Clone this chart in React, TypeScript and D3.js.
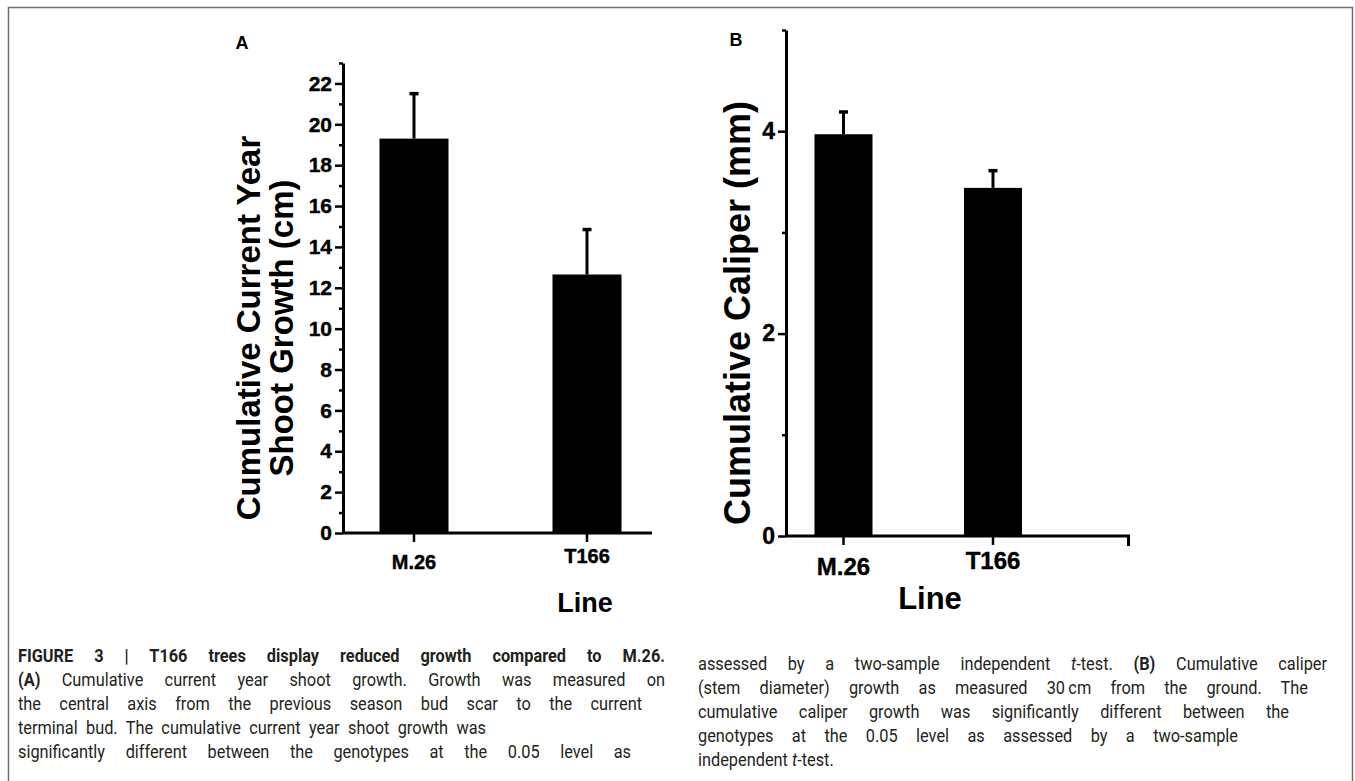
import * as d3 from "d3";
import React, { useEffect, useRef } from "react";

// Data
const categories = ["M.26", "T166"];

// Panel A: cumulative current year shoot growth (cm)
const shootGrowth = [19.3, 12.65];
const shootGrowthErr = [2.2, 2.2];
const shootTicks = [0, 2, 4, 6, 8, 10, 12, 14, 16, 18, 20, 22];
const shootMinorTicks = [1, 3, 5, 7, 9, 11, 13, 15, 17, 19, 21, 23];

// Panel B: cumulative caliper (mm)
const caliper = [3.97, 3.44];
const caliperErr = [0.22, 0.17];
const caliperTicks = [0, 2, 4];
const caliperMinorTicks = [1, 3, 5];

type Seg = { t: string; b?: boolean; i?: boolean };

const captionLeft: Seg[][] = [
  [{ t: "FIGURE 3 | T166 trees display reduced growth compared to M.26.", b: true }],
  [{ t: "(A)", b: true }, { t: " Cumulative current year shoot growth. Growth was measured on" }],
  [{ t: "the central axis from the previous season bud scar to the current" }],
  [{ t: "terminal bud. The cumulative current year shoot growth was" }],
  [{ t: "significantly different between the genotypes at the 0.05 level as" }],
];
const captionRight: Seg[][] = [
  [
    { t: "assessed by a two-sample independent " },
    { t: "t", i: true },
    { t: "-test. " },
    { t: "(B)", b: true },
    { t: " Cumulative caliper" },
  ],
  [{ t: "(stem diameter) growth as measured 30\u2009cm from the ground. The" }],
  [{ t: "cumulative caliper growth was significantly different between the" }],
  [{ t: "genotypes at the 0.05 level as assessed by a two-sample" }],
  [{ t: "independent " }, { t: "t", i: true }, { t: "-test." }],
];
const captionLeftEnds = [665, 665, 642, 486, 631];
const captionRightEnds = [1327, 1308, 1289, 1238, 0];

const W = 1355;
const H = 781;
const FONT = "'Liberation Sans', Arial, Helvetica, sans-serif";
const CAPTION_FONT = "Roboto, 'Liberation Sans', sans-serif";
const CAPTION_SX = 0.86; // squeeze to mimic the condensed caption face

interface PanelOpts {
  letter: string;
  letterPos: [number, number];
  axisX: number;
  yRange: [number, number];
  yMax: number;
  centers: [number, number];
  barWidth: number;
  axisEnd: number;
  endTick: boolean;
  values: number[];
  errs: number[];
  ticks: number[];
  minorTicks: number[];
  tickFont: number;
  catFont: number;
  catY: number[];
  xTitle: [number, number, number];
  yTitle: string[];
  yTitleX: number[];
  yTitleY: number;
  yTitleFont: number;
}

function drawPanel(svg: d3.Selection<SVGSVGElement, unknown, null, undefined>, o: PanelOpts) {
  const g = svg.append("g").attr("font-family", FONT).attr("font-weight", "bold").attr("fill", "#000");

  const y = d3.scaleLinear().domain([0, o.yMax]).range(o.yRange);
  const x = d3.scalePoint<string>().domain(categories).range(o.centers);

  // bars
  g.selectAll(".bar")
    .data(o.values)
    .join("rect")
    .attr("x", (d, i) => (x(categories[i]) || 0) - o.barWidth / 2)
    .attr("y", (d) => y(d))
    .attr("width", o.barWidth)
    .attr("height", (d) => y(0) - y(d))
    .attr("fill", "#000");

  // error bars (upper only)
  g.selectAll(".err")
    .data(o.values)
    .join("line")
    .attr("x1", (d, i) => x(categories[i]) || 0)
    .attr("x2", (d, i) => x(categories[i]) || 0)
    .attr("y1", (d) => y(d))
    .attr("y2", (d, i) => y(d + o.errs[i]))
    .attr("stroke", "#000")
    .attr("stroke-width", 3);
  g.selectAll(".cap")
    .data(o.values)
    .join("line")
    .attr("x1", (d, i) => (x(categories[i]) || 0) - 4.5)
    .attr("x2", (d, i) => (x(categories[i]) || 0) + 4.5)
    .attr("y1", (d, i) => y(d + o.errs[i]))
    .attr("y2", (d, i) => y(d + o.errs[i]))
    .attr("stroke", "#000")
    .attr("stroke-width", 3.5);

  // y axis: minor ticks
  g.append("g")
    .attr("transform", `translate(${o.axisX},0)`)
    .call(d3.axisLeft(y).tickValues(o.minorTicks).tickSize(4).tickSizeOuter(0).tickFormat(() => ""))
    .call((a) => a.select(".domain").attr("stroke-width", 3))
    .call((a) => a.selectAll(".tick line").attr("stroke-width", 2.5));

  // y axis: major ticks with labels
  g.append("g")
    .attr("transform", `translate(${o.axisX},0)`)
    .call(
      d3
        .axisLeft(y)
        .tickValues(o.ticks)
        .tickSize(8)
        .tickSizeOuter(0)
        .tickPadding(3)
        .tickFormat(d3.format("d")),
    )
    .call((a) => a.select(".domain").remove())
    .call((a) => a.selectAll(".tick line").attr("stroke-width", 2.5))
    .call((a) =>
      a
        .selectAll(".tick text")
        .attr("font-family", FONT)
        .attr("font-weight", "bold")
        .attr("font-size", o.tickFont)
        .attr("stroke", "#000")
        .attr("stroke-width", 0.4)
        .attr("fill", "#000"),
    );

  // x axis
  g.append("line")
    .attr("x1", o.axisX)
    .attr("x2", o.axisEnd)
    .attr("y1", y(0))
    .attr("y2", y(0))
    .attr("stroke", "#000")
    .attr("stroke-width", 3);
  if (o.endTick) {
    g.append("line")
      .attr("x1", o.axisEnd - 1.5)
      .attr("x2", o.axisEnd - 1.5)
      .attr("y1", y(0))
      .attr("y2", y(0) + 10)
      .attr("stroke", "#000")
      .attr("stroke-width", 3);
  }
  g.selectAll(".xtick")
    .data(categories)
    .join("line")
    .attr("x1", (d) => x(d) || 0)
    .attr("x2", (d) => x(d) || 0)
    .attr("y1", y(0))
    .attr("y2", y(0) + 9)
    .attr("stroke", "#000")
    .attr("stroke-width", 2.5);
  g.selectAll(".xlabel")
    .data(categories)
    .join("text")
    .attr("x", (d) => x(d) || 0)
    .attr("y", (d, i) => o.catY[i])
    .attr("dy", "0.35em")
    .attr("text-anchor", "middle")
    .attr("font-size", o.catFont)
    .attr("stroke", "#000")
    .attr("stroke-width", 0.4)
    .text((d) => d);

  // x title
  g.append("text")
    .attr("x", o.xTitle[0])
    .attr("y", o.xTitle[1])
    .attr("dy", "0.35em")
    .attr("text-anchor", "middle")
    .attr("font-size", o.xTitle[2])
    .text("Line");

  // y title
  o.yTitle.forEach((t, i) => {
    g.append("text")
      .attr("transform", `translate(${o.yTitleX[i]},${o.yTitleY}) rotate(-90)`)
      .attr("dy", "0.35em")
      .attr("text-anchor", "middle")
      .attr("font-size", o.yTitleFont)
      .text(t);
  });

  // panel letter
  g.append("text")
    .attr("x", o.letterPos[0])
    .attr("y", o.letterPos[1])
    .attr("dy", "0.35em")
    .attr("text-anchor", "middle")
    .attr("font-size", 18)
    .text(o.letter);
}

function drawCaption(
  svg: d3.Selection<SVGSVGElement, unknown, null, undefined>,
  lines: Seg[][],
  ends: number[],
  x0: number,
  yStart: number,
) {
  const g = svg
    .append("g")
    .attr("font-family", CAPTION_FONT)
    .attr("font-size", 19)
    .attr("fill", "#231f20");
  lines.forEach((segs, li) => {
    const text = g
      .append("text")
      .attr("transform", `translate(${x0},${yStart + li * 24}) scale(${CAPTION_SX},1)`);
    segs.forEach((s) => {
      text
        .append("tspan")
        .attr("font-weight", s.b ? "bold" : null)
        .attr("font-style", s.i ? "italic" : null)
        .text(s.t);
    });
    const end = ends[li];
    if (!end) return;
    const natural = (text.node() as SVGTextElement).getComputedTextLength();
    const full = segs.map((s) => s.t).join("");
    const gaps = (full.match(/ /g) || []).length;
    const target = (end - x0) / CAPTION_SX;
    const extra = target - natural;
    if (extra > 0 && gaps > 0) {
      text.style("word-spacing", `${extra / gaps}px`);
    } else {
      text.attr("textLength", target).attr("lengthAdjust", "spacingAndGlyphs");
    }
  });
}

const App: React.FC = () => {
  const svgRef = useRef<SVGSVGElement>(null);

  useEffect(() => {
    if (!svgRef.current) return;
    const svg = d3.select(svgRef.current);
    svg.selectAll("*").remove();

    svg.append("rect").attr("width", W).attr("height", H).attr("fill", "#fff");

    // frame
    svg
      .append("rect")
      .attr("x", 8.5)
      .attr("y", 7.5)
      .attr("width", 1344)
      .attr("height", 800)
      .attr("fill", "none")
      .attr("stroke", "#6e6e6e")
      .attr("stroke-width", 1.5);

    drawPanel(svg, {
      letter: "A",
      letterPos: [242, 43],
      axisX: 343,
      yRange: [533, 63],
      yMax: 23,
      centers: [414, 587],
      barWidth: 69,
      axisEnd: 652,
      endTick: false,
      values: shootGrowth,
      errs: shootGrowthErr,
      ticks: shootTicks,
      minorTicks: shootMinorTicks,
      tickFont: 21,
      catFont: 20,
      catY: [562, 556],
      xTitle: [585, 603, 27],
      yTitle: ["Cumulative Current Year", "Shoot Growth (cm)"],
      yTitleX: [248, 281],
      yTitleY: 328,
      yTitleFont: 33,
    });

    drawPanel(svg, {
      letter: "B",
      letterPos: [736, 40],
      axisX: 786,
      yRange: [536, 30],
      yMax: 5,
      centers: [843.5, 993],
      barWidth: 58,
      axisEnd: 1130,
      endTick: true,
      values: caliper,
      errs: caliperErr,
      ticks: caliperTicks,
      minorTicks: caliperMinorTicks,
      tickFont: 23,
      catFont: 24,
      catY: [567, 561],
      xTitle: [930, 598, 31],
      yTitle: ["Cumulative Caliper (mm)"],
      yTitleX: [737],
      yTitleY: 313,
      yTitleFont: 36,
    });

    drawCaption(svg, captionLeft, captionLeftEnds, 18, 662);
    drawCaption(svg, captionRight, captionRightEnds, 698, 670);
  }, []);

  return (
    <svg
      ref={svgRef}
      width={W}
      height={H}
      style={{ position: "absolute", left: 0, top: 0, display: "block" }}
    />
  );
};

export default App;
